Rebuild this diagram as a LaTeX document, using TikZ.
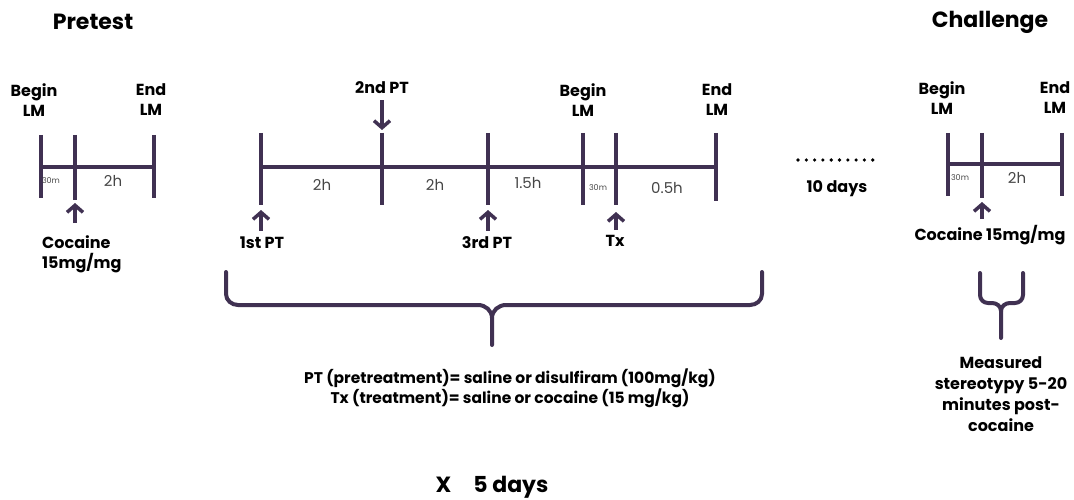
\documentclass[tikz,border=0pt]{standalone}
\usepackage{fontspec}
\setmainfont{Poppins}
\usetikzlibrary{arrows.meta}

\definecolor{linecol}{RGB}{64,49,82}
\definecolor{durcol}{RGB}{70,70,70}

\tikzset{
  tick/.style={line width=4pt,draw=linecol},
  dose/.style={line width=4pt,draw=linecol,-{Straight Barb[length=7pt,width=16pt,line width=3.5pt]}},
  lbl/.style={font=\bfseries\fontsize{16}{20}\selectfont,align=center,inner sep=0pt},
  ttl/.style={font=\bfseries\fontsize{22}{24}\selectfont,inner sep=0pt},
  dur/.style={text=durcol,font=\fontsize{15}{17}\selectfont,inner sep=0pt},
  tiny/.style={text=durcol,font=\fontsize{8}{9}\selectfont,inner sep=0pt},
  brace/.style={line width=4pt,draw=linecol,line cap=round,line join=round},
}

\begin{document}
\begin{tikzpicture}[x=1pt,y=-1pt]

    \useasboundingbox (0,0) rectangle (1074,500);

    % Titles
    \node[ttl] (pretest) at (93,22) {Pretest};
    \node[ttl] (challenge) at (990,22) {Challenge};

    % Pretest timeline
    \coordinate (pa) at (41,167);
    \coordinate (pb) at (75,167);
    \coordinate (pc) at (154,167);
    \draw[tick] (pa) -- (pc);
    \draw[tick] (41,135) -- (41,198);
    \draw[tick] (75,135) -- (75,200);
    \draw[tick] (154,135) -- (154,198);
    \node[lbl] (pbegin) at (34,100) {Begin\\LM};
    \node[lbl] (pend) at (151,100) {End\\LM};
    \node[tiny] (pthirty) at (51,181) {30m};
    \node[dur] (ptwo) at (113,181) {2h};
    \coordinate (pbot) at (75,203);
    \node[lbl,align=left,anchor=west] (pcoc) at (42,254) {Cocaine\\15mg/mg};
    \draw[dose,shorten <=12pt] (pcoc.north -| pbot) -- (pbot);

    % Training day timeline
    \coordinate (t1) at (261,167);
    \coordinate (t2) at (382,167);
    \coordinate (t3) at (488,167);
    \coordinate (t4) at (583,167);
    \coordinate (t5) at (616,167);
    \coordinate (t6) at (716,167);
    \draw[tick] (t1) -- (t6);
    \foreach \x in {261,382,488,583,616}
        \draw[tick] (\x,133) -- (\x,205);
    \draw[tick] (716,133) -- (716,201);

    \node[dur] (d1) at (322,185) {2h};
    \node[dur] (d2) at (435,185) {2h};
    \node[dur] (d3) at (528,183) {1.5h};
    \node[tiny] (d4) at (598,188) {30m};
    \node[dur] (d5) at (667,188) {0.5h};

    \node[lbl] (tbegin) at (583,100) {Begin\\LM};
    \node[lbl] (tend) at (717,100) {End\\LM};

    % Injections
    \node[lbl] (pt2) at (382,88) {2nd PT};
    \coordinate (pt2tip) at (382,130);
    \draw[dose,shorten <=6pt] (pt2.south -| pt2tip) -- (pt2tip);

    \node[lbl] (pt1) at (262,243) {1st PT};
    \coordinate (pt1tip) at (261,210);
    \draw[dose,shorten <=6pt] (pt1.north -| pt1tip) -- (pt1tip);

    \node[lbl] (pt3) at (487,243) {3rd PT};
    \coordinate (pt3tip) at (488,210);
    \draw[dose,shorten <=6pt] (pt3.north -| pt3tip) -- (pt3tip);

    \node[lbl] (tx) at (615,241) {Tx};
    \coordinate (txtip) at (616,212);
    \draw[dose,shorten <=5pt] (tx.north -| txtip) -- (txtip);

    % Big brace
    \coordinate (bigtip) at (492,345);
    \draw[brace] (226,272) -- (226,294) to[out=-90,in=180] (238,305) -- (478,305)
        to[out=0,in=90] (492,318) -- (bigtip);
    \draw[brace] (762,272) -- (762,294) to[out=-90,in=0] (750,305) -- (506,305)
        to[out=180,in=90] (492,318);
    \node[lbl,font=\bfseries\fontsize{15.5}{20}\selectfont] (legend) at (510,388) {PT (pretreatment)= saline or disulfiram (100mg/kg)\\Tx (treatment)= saline or cocaine (15 mg/kg)};

    \node[ttl] (repeat) at (492,487) {X\hspace{1em}5 days};

    % Gap
    \foreach \i in {0,...,9}
        \fill (798+\i*8.3,160) circle (1.8);
    \node[lbl] (gap) at (837,189) {10 days};

    % Challenge timeline
    \coordinate (ca) at (948,164);
    \coordinate (cb) at (982,164);
    \coordinate (cc) at (1062,164);
    \draw[tick] (ca) -- (cc);
    \draw[tick] (948,133) -- (948,196);
    \draw[tick] (982,133) -- (982,198);
    \draw[tick] (1062,133) -- (1062,196);
    \node[lbl] (cbegin) at (942,98) {Begin\\LM};
    \node[lbl] (cend) at (1055,98) {End\\LM};
    \node[tiny] (cthirty) at (960,178) {30m};
    \node[dur] (ctwo) at (1017,178) {2h};
    \coordinate (cbot) at (982,202);
    \node[lbl] (ccoc) at (990,235) {Cocaine 15mg/mg};
    \draw[dose,shorten <=6pt] (ccoc.north -| cbot) -- (cbot);

    % Small brace
    \coordinate (smalltip) at (1001,338);
    \draw[brace] (980,273) -- (980,295) to[out=-90,in=180] (988,303) -- (992,303)
        to[out=0,in=90] (1001,311) -- (smalltip);
    \draw[brace] (1023,273) -- (1023,295) to[out=-90,in=0] (1015,303) -- (1010,303)
        to[out=180,in=90] (1001,311);
    \node[lbl,font=\bfseries\fontsize{16}{21}\selectfont] (measured) at (1001,394) {Measured\\stereotypy 5-20\\minutes post-\\cocaine};

\end{tikzpicture}
\end{document}
